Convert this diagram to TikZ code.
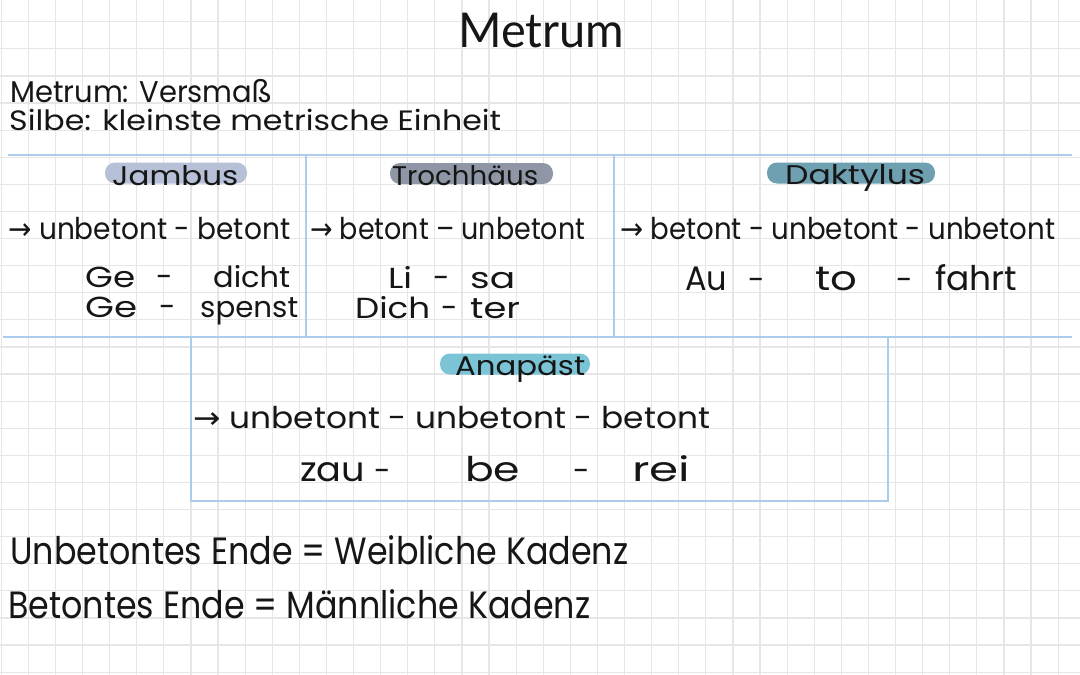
\documentclass[tikz,border=0pt]{standalone}
\usepackage{fontspec}
\usepackage{graphicx}
\setmainfont{Poppins}
\newfontfamily\symfont{DejaVu Sans}
\newfontfamily\titlefont{Lato}
\newcommand\hw[2]{\resizebox{#1pt}{\height}{#2}}
\newcommand\arr{{\symfont →}}
\definecolor{gridgray}{RGB}{230,230,230}
\definecolor{ruleblue}{RGB}{172,204,236}
\definecolor{jambusc}{RGB}{182,192,214}
\definecolor{trochc}{RGB}{143,151,166}
\definecolor{daktc}{RGB}{110,160,178}
\definecolor{anac}{RGB}{122,196,213}
\definecolor{ink}{RGB}{22,22,22}
\begin{document}
\begin{tikzpicture}[x=1pt,y=-1pt,
  gridline/.style={draw=gridgray, line width=1.2pt},
  rule/.style={draw=ruleblue, line width=2.4pt},
  pill/.style={fill=#1, rounded corners=10pt, inner sep=0pt, minimum height=21pt},
  txt/.style={inner sep=0pt, anchor=base west, text=ink, font=\fontsize{30}{32}\selectfont},
  big/.style={txt, font=\fontsize{34}{36}\selectfont},
  stack/.style={txt, font=\fontsize{29}{31}\selectfont},
  pilltxt/.style={txt, font=\fontsize{27}{29}\selectfont},
  hyph/.style={inner sep=0pt, anchor=base, text=ink, font=\fontsize{30}{32}\selectfont},
  bottomtxt/.style={txt, font=\fontsize{38}{40}\selectfont}]
\useasboundingbox (0,0) rectangle (1080,675);
\fill[white] (0,0) rectangle (1080,675);
% grid
\foreach \i in {0,...,39} \draw[gridline] ({1.2+27.1*\i},0) -- ({1.2+27.1*\i},675);
\foreach \j in {0,...,24} \draw[gridline] (0,{21.7+27.1*\j}) -- (1080,{21.7+27.1*\j});
% title
\node[inner sep=0pt, anchor=base west, text=ink, font=\titlefont\fontsize{48}{50}\selectfont] (title) at (458,47) {\hw{166}{Metrum}};
\node[txt, font=\fontsize{30}{32}\selectfont] (def1) at (10,102) {\hw{262}{Metrum: Versmaß}};
\node[txt, font=\fontsize{28}{30}\selectfont] (def2) at (9,130) {\hw{492}{Silbe: kleinste metrische Einheit}};
% rules
\coordinate (tl) at (8,155); \coordinate (tr) at (1072,155);
\coordinate (bl) at (3,337); \coordinate (br) at (1072,337);
\draw[rule] (tl) -- (tr);
\draw[rule] (bl) -- (br);
\coordinate (v1t) at (306,155); \coordinate (v1b) at (306,337);
\coordinate (v2t) at (614,155); \coordinate (v2b) at (614,337);
\draw[rule] (v1t) -- (v1b);
\draw[rule] (v2t) -- (v2b);
\coordinate (ab1) at (191,337); \coordinate (ab2) at (888,501);
\draw[rule] (ab1) rectangle (ab2);
% pills
\node[pill=jambusc, minimum width=142pt] (pJ) at (176,173) {};
\node[pill=trochc, minimum width=163pt] (pT) at (471.5,173.5) {};
\node[pill=daktc, minimum width=168pt] (pD) at (851,173) {};
\node[pill=anac, minimum width=150pt] (pA) at (515,364) {};
\node[pilltxt] (tJ) at (112,185) {\hw{126}{Jambus}};
\node[pilltxt] (tT) at (392,185) {\hw{146}{Trochhäus}};
\node[pilltxt] (tD) at (785,184) {\hw{140}{Daktylus}};
\node[pilltxt] (tA) at (455,375) {\hw{130}{Anapäst}};
% row 1
\node[txt] (r1a) at (8,239) {\hw{282}{\arr\ unbetont - betont}};
\node[txt] (r1b) at (310,239) {\hw{275}{\arr\ betont – unbetont}};
\node[txt] (r1c) at (620,239) {\hw{435}{\arr\ betont - unbetont - unbetont}};
% Jambus examples
\node[stack] (g1) at (85,287) {\hw{50}{Ge}};
\node[hyph] (g1d) at (165,287) {-};
\node[stack] (g1b) at (213,287) {\hw{77}{dicht}};
\node[stack] (g2) at (85,317) {\hw{52}{Ge}};
\node[hyph] (g2d) at (168,317) {-};
\node[stack] (g2b) at (200,317) {\hw{98}{spenst}};
% Trochäus examples
\node[stack] (l1) at (388,288) {\hw{24}{Li}};
\node[hyph] (l1d) at (442,288) {-};
\node[stack] (l1b) at (470,288) {\hw{45}{sa}};
\node[stack] (d1) at (355,318) {\hw{75}{Dich}};
\node[hyph] (d1d) at (450,318) {-};
\node[stack] (d1b) at (470,318) {\hw{50}{ter}};
% Daktylus examples
\node[big] (au) at (685,290) {\hw{42}{Au}};
\node[hyph] (aud) at (757,290) {-};
\node[big] (to) at (815,290) {\hw{42}{to}};
\node[hyph] (tod) at (905,290) {-};
\node[big] (fa) at (935,290) {\hw{82}{fahrt}};
% Anapäst
\node[txt] (ar) at (193,428) {\hw{517}{\arr\ unbetont - unbetont - betont}};
\node[big] (za) at (300,481) {\hw{65}{zau}};
\node[hyph] (zad) at (383,481) {-};
\node[big] (be) at (465,481) {\hw{55}{be}};
\node[hyph] (bed) at (582,481) {-};
\node[big] (re) at (632,481) {\hw{58}{rei}};
% bottom
\node[bottomtxt] (k1) at (10,564) {\hw{618}{Unbetontes Ende = Weibliche Kadenz}};
\node[bottomtxt] (k2) at (8,618) {\hw{582}{Betontes Ende = Männliche Kadenz}};
\end{tikzpicture}
\end{document}
